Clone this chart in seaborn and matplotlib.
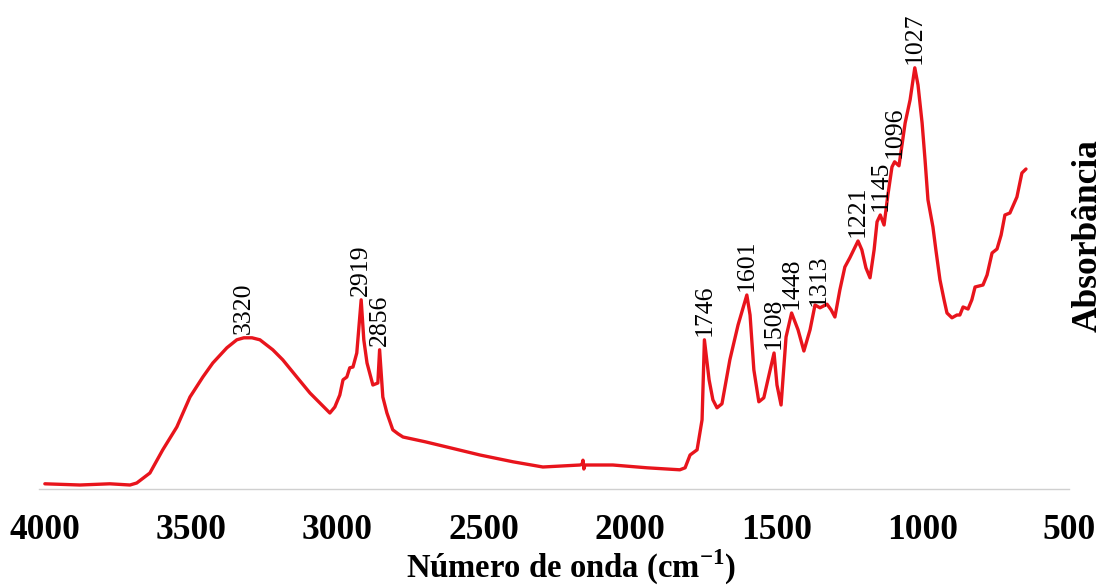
import numpy as np
import pandas as pd
import matplotlib
matplotlib.use("Agg")
import matplotlib.pyplot as plt
import seaborn as sns

# FTIR spectrum (wavenumber in cm-1, absorbance in arbitrary units)
wavenumber = [
    4000, 3880, 3778, 3709, 3686, 3641, 3597, 3549, 3504, 3460,
    3426, 3378, 3344, 3320, 3292, 3265, 3221, 3187, 3139, 3094,
    3060, 3026, 3009, 2992, 2981, 2968, 2958, 2947, 2934, 2919,
    2910, 2899, 2879, 2862, 2856, 2845, 2831, 2811, 2793, 2776,
    2700, 2626, 2513, 2400, 2298, 2171, 2164, 2161, 2158, 2154,
    2059, 1942, 1830, 1812, 1795, 1771, 1754, 1746, 1730, 1717,
    1703, 1686, 1659, 1631, 1601, 1590, 1577, 1560, 1543, 1529,
    1508, 1498, 1484, 1467, 1448, 1426, 1406, 1385, 1368, 1351,
    1327, 1313, 1300, 1283, 1266, 1249, 1221, 1208, 1194, 1180,
    1166, 1156, 1145, 1132, 1119, 1105, 1096, 1081, 1060, 1043,
    1027, 1016, 1002, 992, 982, 965, 955, 941, 927, 917,
    900, 883, 873, 862, 845, 832, 821, 794, 780, 763,
    746, 732, 719, 702, 678, 661, 647,
]
absorbance = [
    0.013, 0.010, 0.013, 0.010, 0.015, 0.040, 0.098, 0.155, 0.230, 0.280,
    0.315, 0.353, 0.373, 0.378, 0.378, 0.373, 0.348, 0.323, 0.280, 0.240,
    0.215, 0.190, 0.205, 0.235, 0.273, 0.280, 0.303, 0.305, 0.340, 0.473,
    0.373, 0.315, 0.260, 0.265, 0.348, 0.230, 0.190, 0.148, 0.138, 0.130,
    0.118, 0.105, 0.085, 0.068, 0.055, 0.060, 0.062, 0.072, 0.050, 0.060,
    0.060, 0.053, 0.048, 0.053, 0.085, 0.098, 0.173, 0.373, 0.273, 0.223,
    0.203, 0.213, 0.323, 0.410, 0.485, 0.435, 0.298, 0.218, 0.228, 0.273,
    0.340, 0.260, 0.210, 0.380, 0.440, 0.398, 0.345, 0.398, 0.460, 0.453,
    0.462, 0.448, 0.430, 0.498, 0.555, 0.578, 0.620, 0.598, 0.553, 0.528,
    0.598, 0.668, 0.685, 0.660, 0.735, 0.805, 0.818, 0.808, 0.915, 0.973,
    1.053, 1.010, 0.915, 0.823, 0.723, 0.655, 0.598, 0.523, 0.473, 0.440,
    0.428, 0.435, 0.435, 0.455, 0.450, 0.473, 0.505, 0.510, 0.535, 0.590,
    0.600, 0.635, 0.685, 0.690, 0.730, 0.790, 0.800,
]

# Annotated band positions (cm-1)
peak_labels = [3320, 2919, 2856, 1746, 1601, 1508, 1448, 1313, 1221, 1145, 1096, 1027]
# horizontal nudges (points) for crowded labels
label_nudge = {1313: -9}

x_ticks = [4000, 3500, 3000, 2500, 2000, 1500, 1000, 500]

df = pd.DataFrame({"wavenumber": wavenumber, "absorbance": absorbance})

sns.set_theme(style="white")
plt.rcParams["font.family"] = ["Liberation Serif", "DejaVu Serif"]
plt.rcParams["mathtext.fontset"] = "custom"
plt.rcParams["mathtext.rm"] = "Liberation Serif"
plt.rcParams["mathtext.bf"] = "Liberation Serif:bold"
plt.rcParams["text.color"] = "black"
plt.rcParams["axes.labelcolor"] = "black"
plt.rcParams["xtick.color"] = "black"

fig = plt.figure(figsize=(11.08, 5.86), dpi=100)
ax = fig.add_axes([39 / 1108, 97 / 586, 1030 / 1108, 489 / 586])

sns.lineplot(data=df, x="wavenumber", y="absorbance", sort=False,
             color="#e8141c", linewidth=2.4, ax=ax)
ax.lines[0].set_solid_joinstyle("round")

ax.set_xlim(4020, 500)
ax.set_ylim(0, 1.2225)
ax.set_xticks(x_ticks)
ax.set_xticklabels([str(t) for t in x_ticks], fontsize=25.5, fontweight="bold")
ax.set_yticks([])
ax.tick_params(axis="x", length=0, pad=18, colors="black")

for side in ["top", "left", "right"]:
    ax.spines[side].set_visible(False)
ax.spines["bottom"].set_color("#d0d0d0")
ax.spines["bottom"].set_linewidth(1.0)

ax.set_xlabel(r"Número de onda (cm$^{\mathbf{-1}}$)", fontsize=23.5, fontweight="bold")
ax.xaxis.set_label_coords(0.516, -0.2)
ax.xaxis.label.set_verticalalignment("bottom")

ax.yaxis.set_label_position("right")
ax.set_ylabel("Absorbância", fontsize=25.5, fontweight="bold", rotation=90)
ax.yaxis.set_label_coords(1.0184, 0.519)
ax.yaxis.label.set_verticalalignment("center")

wn = np.array(wavenumber)
ab = np.array(absorbance)
order = np.argsort(wn)
for p in peak_labels:
    yv = float(np.interp(p, wn[order], ab[order]))
    ax.annotate(str(p), xy=(p, yv), xytext=(label_nudge.get(p, 0), 3),
                textcoords="offset points", rotation=90,
                ha="center", va="bottom", fontsize=18.5, color="black")

fig.savefig("out.png", dpi=100, facecolor="white")
